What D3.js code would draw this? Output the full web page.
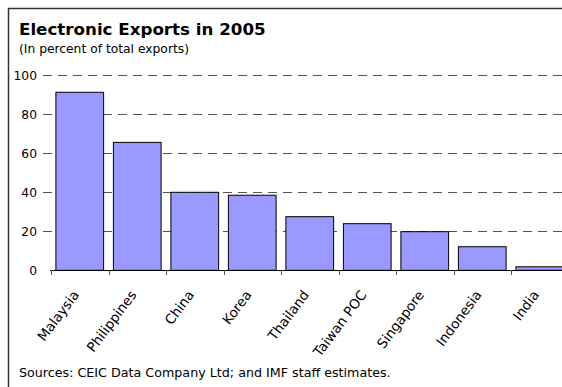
<!DOCTYPE html>
<html>
<head>
<meta charset="utf-8">
<script src="https://cdn.jsdelivr.net/npm/d3@7"></script>
<style>
  html, body { margin: 0; padding: 0; background: #fff; }
  svg { display: block; }
  text { font-family: Tahoma, "DejaVu Sans", sans-serif; fill: #000; }
</style>
</head>
<body>
<svg id="chart" width="562" height="387"></svg>
<script>
// Electronic exports as a share of total exports, 2005
const countries = ["Malaysia", "Philippines", "China", "Korea", "Thailand", "Taiwan POC", "Singapore", "Indonesia", "India"];
const shares = [91.3, 65.6, 40.0, 38.5, 27.5, 23.9, 19.8, 12.1, 1.8];
const yTicks = [0, 20, 40, 60, 80, 100];
const gridTicks = [20, 40, 60, 80, 100];

const svg = d3.select("#chart");

const x = d3.scaleBand()
  .domain(countries)
  .range([51, 568.5])
  .paddingInner(0.17)
  .paddingOuter(0.085);

const y = d3.scaleLinear()
  .domain([0, 100])
  .range([270.3, 75.3]);

// frame (top and left edges)
svg.append("path")
  .attr("d", "M8.5,387V8.5H562")
  .attr("fill", "none")
  .attr("stroke", "#333")
  .attr("stroke-width", 1.5);

// titles
svg.append("text")
  .attr("x", 19).attr("y", 35)
  .attr("font-size", 16.7).attr("font-weight", "bold")
  .text("Electronic Exports in 2005");
svg.append("text")
  .attr("x", 19).attr("y", 53)
  .attr("font-size", 12.3)
  .text("(In percent of total exports)");

// dashed gridlines
svg.append("g")
  .selectAll("line")
  .data(gridTicks)
  .join("line")
  .attr("x1", 43).attr("x2", 562)
  .attr("y1", d => Math.round(y(d)) + 0.5)
  .attr("y2", d => Math.round(y(d)) + 0.5)
  .attr("stroke", "#555")
  .attr("stroke-width", 1)
  .attr("stroke-dasharray", "9,6");

// y tick labels
svg.append("g")
  .selectAll("text")
  .data(yTicks)
  .join("text")
  .attr("x", 37)
  .attr("y", d => y(d))
  .attr("dy", "0.36em")
  .attr("text-anchor", "end")
  .attr("font-size", 12.3)
  .text(d => d);

// bars
svg.append("g")
  .selectAll("rect")
  .data(countries.map((c, i) => ({ c, v: shares[i] })))
  .join("rect")
  .attr("x", d => x(d.c))
  .attr("y", d => y(d.v))
  .attr("width", x.bandwidth())
  .attr("height", d => y(0) - y(d.v))
  .attr("fill", "#9999ff")
  .attr("stroke", "#000")
  .attr("stroke-width", 1);

// x axis with ticks between categories
const xAxis = svg.append("g");
xAxis.append("line")
  .attr("x1", 50).attr("x2", 562)
  .attr("y1", 270.5).attr("y2", 270.5)
  .attr("stroke", "#000");
const step = x.step();
xAxis.selectAll("line.tick")
  .data(d3.range(countries.length + 1))
  .join("line")
  .attr("class", "tick")
  .attr("x1", i => Math.round(51 + i * step) + 0.5)
  .attr("x2", i => Math.round(51 + i * step) + 0.5)
  .attr("y1", 270).attr("y2", 275)
  .attr("stroke", "#555");

// rotated category labels
xAxis.selectAll("text")
  .data(countries)
  .join("text")
  .attr("text-anchor", "end")
  .attr("font-size", 13.5)
  .attr("transform", c => `translate(${x(c) + x.bandwidth() / 2},${295}) rotate(-53)`)
  .text(c => c);

// source note
svg.append("text")
  .attr("x", 19).attr("y", 377)
  .attr("font-size", 12.7)
  .text("Sources: CEIC Data Company Ltd; and IMF staff estimates.");
</script>
</body>
</html>
